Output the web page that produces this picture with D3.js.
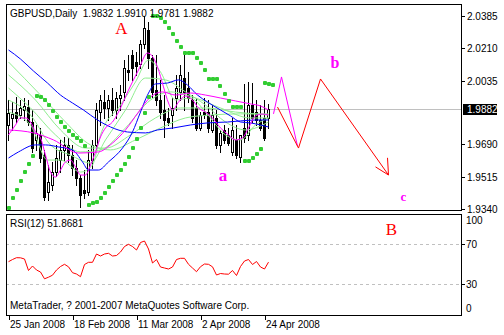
<!DOCTYPE html>
<html><head><meta charset="utf-8">
<script src="https://cdn.jsdelivr.net/npm/d3@7"></script>
<style>
body{margin:0;background:#fff}
svg{display:block}
text{font-family:'Liberation Sans',Arial,sans-serif;font-size:10px;fill:#000;white-space:pre}
</style></head>
<body><svg id="c" width="504" height="335"></svg>
<script>
// ---------- data ----------
const symbol = "GBPUSD,Daily";
const lastBar = {o:1.9832, h:1.9910, l:1.9781, c:1.9882};
const tickBars = [0,16,32,48,64];
const tickLabels = ["25 Jan 2008","18 Feb 2008","11 Mar 2008","2 Apr 2008","24 Apr 2008"];
const priceTicks = [2.0385,2.0210,2.0035,1.9690,1.9515,1.9340];
const rsiTicks = [100,70,30,0];
const rsiLevels = [70,30];
const rsiLast = 51.8681;

const open = [1.9795,1.9833,1.9866,1.9849,1.9876,1.9893,1.9812,1.9714,1.9741,1.9633,
1.9433,1.9471,1.9541,1.9606,1.9660,1.9687,1.9633,1.9563,1.9509,1.9444,
1.9433,1.9606,1.9687,1.9866,1.9920,1.9887,1.9930,1.9876,1.9941,1.9974,
2.0093,2.0174,2.0136,2.0125,2.0234,2.0309,2.0158,1.9985,1.9930,1.9876,
1.9833,1.9849,1.9941,1.9974,2.0050,1.9996,1.9930,1.9887,1.9779,1.9866,
1.9866,1.9768,1.9833,1.9687,1.9768,1.9741,1.9649,1.9714,1.9622,1.9779,
1.9741,1.9903,1.9866,1.9822,1.9833,1.9832];
const high = [1.9930,1.9920,1.9947,1.9930,1.9941,1.9930,1.9876,1.9795,1.9779,1.9660,
1.9579,1.9595,1.9687,1.9714,1.9730,1.9725,1.9687,1.9606,1.9525,1.9552,
1.9660,1.9714,1.9914,1.9958,1.9985,1.9958,1.9996,1.9974,2.0012,2.0147,
2.0174,2.0201,2.0190,2.0255,2.0385,2.0353,2.0174,2.0174,2.0039,1.9958,
1.9887,1.9941,2.0066,2.0120,2.0174,2.0082,1.9958,1.9941,1.9866,1.9941,
1.9930,1.9903,1.9876,1.9768,1.9795,1.9779,1.9833,1.9795,1.9741,2.0017,
2.0028,2.0023,1.9930,1.9903,1.9930,1.9910];
const low = [1.9714,1.9768,1.9812,1.9833,1.9822,1.9795,1.9649,1.9660,1.9595,1.9390,
1.9390,1.9444,1.9520,1.9541,1.9606,1.9595,1.9525,1.9471,1.9352,1.9401,
1.9417,1.9563,1.9660,1.9795,1.9833,1.9822,1.9849,1.9833,1.9876,1.9930,
2.0039,2.0039,2.0066,2.0104,2.0212,2.0104,1.9947,1.9903,1.9833,1.9730,
1.9795,1.9779,1.9876,1.9930,1.9876,1.9920,1.9812,1.9768,1.9768,1.9833,
1.9758,1.9758,1.9671,1.9649,1.9698,1.9687,1.9633,1.9617,1.9595,1.9703,
1.9714,1.9812,1.9795,1.9768,1.9714,1.9781];
const close = [1.9860,1.9855,1.9833,1.9887,1.9898,1.9812,1.9671,1.9752,1.9617,1.9406,
1.9487,1.9541,1.9617,1.9660,1.9687,1.9633,1.9563,1.9509,1.9417,1.9428,
1.9606,1.9687,1.9876,1.9930,1.9887,1.9930,1.9876,1.9941,1.9958,2.0104,
2.0082,2.0104,2.0115,2.0234,2.0320,2.0158,1.9974,1.9930,1.9866,1.9822,
1.9812,1.9887,1.9996,2.0066,1.9974,1.9941,1.9833,1.9779,1.9849,1.9849,
1.9779,1.9849,1.9687,1.9752,1.9714,1.9698,1.9768,1.9633,1.9741,1.9725,
1.9903,1.9833,1.9822,1.9779,1.9725,1.9882];

const sar = [1.9346,1.9400,1.9444,1.9492,1.9541,1.9584,1.9628,
1.9952,1.9947,1.9930,1.9903,1.9871,1.9839,1.9812,1.9785,1.9763,1.9741,1.9725,1.9709,1.9682,
1.9363,1.9373,1.9379,1.9400,1.9428,1.9460,1.9492,1.9525,1.9552,1.9584,1.9622,1.9671,1.9720,1.9779,1.9860,1.9947,
2.0385,2.0385,2.0374,2.0353,2.0320,2.0287,2.0250,2.0217,2.0185,2.0185,2.0185,2.0158,2.0131,2.0093,2.0044,2.0044,2.0044,2.0006,1.9963,1.9925,1.9892,1.9892,1.9892,
1.9601,1.9601,1.9617,1.9639,1.9666,
2.0023,2.0017,2.0012];

const rsi = [52.3,54.5,56.3,56.2,55,43.5,48,44,42,35.2,
36.8,38.8,44,47.5,49.7,47.2,41.3,40,37.3,49.5,
51.7,51.7,60,58,60,60.7,58,58.5,62,67.5,
69.7,67.5,64,71.5,73,65,51,54.5,47,46,
45,47,54.5,55.7,55.7,49.7,46,42.3,47.3,50,
49.7,47.2,39,40.5,40,39.8,43.5,38.5,47.5,53,
54.5,49.5,52.5,47,45,51.8681];

// moving averages: [bar, price]
const maBlueSlow = [[0,2.0201],[3,2.0152],[6.25,2.0087],[9.75,2.0022],[13,1.9957],[16,1.9914],[18.75,1.9876],[22.25,1.9822],[25.5,1.9784],[29.75,1.9757],[34.25,1.9752],[37.25,1.9768],[41.25,1.9779],[45.5,1.9795],[49.75,1.9806],[54.75,1.9811],[58,1.9817],[62.25,1.9822],[65,1.9822]];
const maBlueFast = [[0,1.9616],[2.5,1.9649],[6.75,1.9687],[9.25,1.9687],[12.5,1.9676],[16,1.9660],[18.5,1.9595],[20,1.9551],[22.5,1.9551],[25,1.9595],[28.5,1.9670],[31,1.9757],[33,1.9865],[34.75,1.9957],[36.75,2.0017],[39.75,2.0022],[42.5,2.0039],[44.75,2.0011],[47.25,1.9957],[49.75,1.9919],[53,1.9876],[55.5,1.9844],[58,1.9811],[60.5,1.9806],[63,1.9795],[65,1.9784]];
const maMagentaFast = [[0,1.9741],[1.75,1.9795],[3,1.9833],[4.25,1.9833],[5.5,1.9811],[6.75,1.9757],[8,1.9725],[9.25,1.9632],[10.5,1.9540],[11.75,1.9513],[13,1.9551],[14.25,1.9595],[15.5,1.9605],[16.75,1.9568],[18,1.9524],[19.25,1.9524],[20.5,1.9578],[21.75,1.9649],[23,1.9730],[24.25,1.9779],[26,1.9811],[27.5,1.9865],[30,1.9984],[32.5,2.0093],[34.75,2.0185],[36.25,2.0158],[37.25,2.0109],[38.75,2.0001],[40,1.9914],[41,1.9876],[42.5,1.9919],[44.25,1.9952],[46,1.9930],[47.5,1.9887],[49.25,1.9865],[51,1.9833],[53,1.9779],[55,1.9741],[56.75,1.9714],[58.5,1.9725],[60,1.9779],[61.75,1.9844],[63.5,1.9854],[65,1.9849]];
const maMagentaSlow = [[0,1.9768],[6.25,1.9752],[11.25,1.9714],[17.5,1.9643],[22.5,1.9649],[26,1.9697],[29.25,1.9768],[32.5,1.9865],[35.5,1.9946],[38.5,1.9974],[41.75,1.9957],[45.5,1.9968],[49.25,1.9957],[53,1.9941],[56.75,1.9925],[60.5,1.9909],[63,1.9898],[65,1.9876]];
const maGreen1 = [[0,1.9865],[5.5,1.9795],[9.75,1.9605],[13,1.9605],[18,1.9540],[21,1.9578],[23,1.9741],[28,1.9903],[31.75,2.0028],[35,2.0147],[38,2.0082],[41.75,1.9930],[45.5,1.9941],[49.25,1.9865],[54.25,1.9741],[58,1.9714],[61.75,1.9795],[65,1.9833]];
const maGreen2 = [[0,1.9930],[5.5,1.9849],[10.5,1.9687],[15.5,1.9632],[20.5,1.9589],[24.25,1.9714],[29.25,1.9876],[34.25,2.0049],[39.25,2.0039],[44.25,1.9974],[49.25,1.9903],[54.25,1.9811],[59.25,1.9768],[65,1.9811]];
const maGreen3 = [[0,1.9995],[5.5,1.9887],[11.75,1.9741],[18,1.9649],[23,1.9660],[29.25,1.9779],[35.5,1.9930],[40.5,1.9974],[46.75,1.9941],[53,1.9887],[60.5,1.9833],[65,1.9833]];
const maGreen4 = [[0,2.0066],[6.75,1.9930],[13,1.9768],[19.25,1.9670],[24.25,1.9670],[30.5,1.9741],[36.75,1.9833],[43,1.9887],[49.25,1.9887],[56.75,1.9865],[65,1.9849]];
const maGreen5 = [[0,2.0136],[8,1.9957],[14.25,1.9811],[20.5,1.9687],[25.5,1.9660],[31.75,1.9714],[38,1.9779],[44.25,1.9833],[50.5,1.9849],[58,1.9855],[65,1.9855]];

// hand-drawn wave projections [bar, price]
const waveMagenta = [[66.25,1.9855],[68.25,2.0055],[72.25,1.9681]];
const waveRed = [[67.25,1.9892],[72.5,1.9670],[78,2.0044],[95,1.9524]];
const arrowWings = [[[91.75,1.9568],[95,1.9524]],[[94.75,1.9617],[95,1.9524]]];
const waveLabels = [
  {t:"A", bar:28.25, price:2.0315, color:"#ff0000", font:"'Liberation Serif',serif", size:17, weight:"normal"},
  {t:"a", bar:53.6, price:1.9524, color:"#ff00ff", font:"'Liberation Serif',serif", size:17, weight:"bold"},
  {t:"b", bar:81.6, price:2.0133, color:"#ff00ff", font:"'Liberation Serif',serif", size:16, weight:"bold"},
  {t:"c", bar:98.75, price:1.9410, color:"#ff00ff", font:"'Liberation Serif',serif", size:13, weight:"bold"}
];
const rsiLabel = {t:"B", bar:95.75, value:85, color:"#ff0000"};
const copyright = "MetaTrader, ? 2001-2007 MetaQuotes Software Corp.";

// ---------- drawing ----------
const svg = d3.select("#c");
const L=6, R=461, mainTop=4, mainBot=210, rsiTop=214, rsiBot=315;
const x = d3.scaleLinear().domain([0,65]).range([8.5,268.5]);
const y = d3.scaleLinear().domain([1.9340,2.0385]).range([209,16]);
const yr = d3.scaleLinear().domain([0,100]).range([314,214]);
const px = v => Math.round(v)+0.5;

svg.append("defs").append("clipPath").attr("id","mc").append("rect")
  .attr("x",L+1).attr("y",mainTop+1).attr("width",R-L-1).attr("height",mainBot-mainTop-1);
svg.select("defs").append("clipPath").attr("id","rc").append("rect")
  .attr("x",L+1).attr("y",rsiTop+1).attr("width",R-L-1).attr("height",rsiBot-rsiTop-1);

const main = svg.append("g").attr("clip-path","url(#mc)");

// bid line
main.append("line").attr("x1",L).attr("x2",R).attr("y1",px(y(lastBar.c))).attr("y2",px(y(lastBar.c)))
  .attr("stroke","#c0c0c0");

// candles
const idx = d3.range(close.length);
const cg = main.append("g").attr("shape-rendering","crispEdges");
cg.selectAll("line.w").data(idx).join("line")
  .attr("x1",i=>x(i)).attr("x2",i=>x(i))
  .attr("y1",i=>Math.round(y(high[i]))).attr("y2",i=>Math.round(y(low[i]))+1)
  .attr("stroke","#000");
cg.selectAll("rect.b").data(idx).join("rect")
  .attr("x",i=> close[i]>=open[i] ? x(i)-1 : x(i)-1.5)
  .attr("width",i=> close[i]>=open[i] ? 2 : 3)
  .attr("y",i=>{const t=Math.round(y(Math.max(open[i],close[i]))); return close[i]>=open[i]? t+0.5 : t;})
  .attr("height",i=>{const t=Math.round(y(Math.max(open[i],close[i]))),b=Math.round(y(Math.min(open[i],close[i]))); return Math.max(close[i]>=open[i]? b-t : b-t+1, 1);})
  .attr("fill",i=> close[i]>=open[i] ? "#fff" : "#000")
  .attr("stroke",i=> close[i]>=open[i] ? "#000" : "none");

// MAs
const maLine = d3.line().x(d=>x(d[0])).y(d=>y(d[1])).curve(d3.curveMonotoneX);
[[maGreen5,"#90ee90"],[maGreen4,"#90ee90"],[maGreen3,"#90ee90"],[maGreen2,"#90ee90"],[maGreen1,"#90ee90"],
 [maBlueSlow,"#0000ff"],[maBlueFast,"#0000ff"],[maMagentaSlow,"#ff00ff"],[maMagentaFast,"#ff00ff"]]
 .forEach(([d,c])=>main.append("path").attr("d",maLine(d)).attr("fill","none").attr("stroke",c).attr("stroke-width",1));

// parabolic SAR
main.append("g").selectAll("rect").data(sar).join("rect")
  .attr("x",(d,i)=>Math.round(x(i))-2).attr("y",d=>Math.round(y(d))-2)
  .attr("width",4).attr("height",4).attr("rx",1).attr("fill","#32cd32");

// wave drawings
const wl = d3.line().x(d=>x(d[0])).y(d=>y(d[1]));
main.append("path").attr("d",wl(waveMagenta)).attr("fill","none").attr("stroke","#ff00ff");
main.append("path").attr("d",wl(waveRed)).attr("fill","none").attr("stroke","#ff0000");
arrowWings.forEach(a=>main.append("path").attr("d",wl(a)).attr("fill","none").attr("stroke","#ff0000"));
waveLabels.forEach(l=>main.append("text").attr("x",x(l.bar)).attr("y",y(l.price))
  .attr("text-anchor","middle").attr("dominant-baseline","central")
  .style("font-family",l.font).style("font-size",l.size+"px").style("font-weight",l.weight).style("fill",l.color).text(l.t));

// title
svg.append("text").attr("x",10).attr("y",17)
  .text(`${symbol}  ${lastBar.o.toFixed(4)} ${lastBar.h.toFixed(4)} ${lastBar.l.toFixed(4)} ${lastBar.c.toFixed(4)}`);

// frames
svg.append("rect").attr("x",L+0.5).attr("y",mainTop+0.5).attr("width",R-L).attr("height",mainBot-mainTop).attr("fill","none").attr("stroke","#000");
svg.append("rect").attr("x",L+0.5).attr("y",rsiTop+0.5).attr("width",R-L).attr("height",rsiBot-rsiTop).attr("fill","none").attr("stroke","#000");

// price axis
priceTicks.forEach(p=>{
  const yy=px(y(p));
  svg.append("line").attr("x1",R+1).attr("x2",R+4).attr("y1",yy).attr("y2",yy).attr("stroke","#000");
  svg.append("text").attr("x",467).attr("y",yy+3.5).text(p.toFixed(4));
});
const by=Math.round(y(lastBar.c));
svg.append("rect").attr("x",463).attr("y",by-5).attr("width",34).attr("height",11).attr("fill","#000");
svg.append("text").attr("x",467).attr("y",by+4).style("fill","#fff").text(lastBar.c.toFixed(4));

// RSI panel
const rg = svg.append("g").attr("clip-path","url(#rc)");
rsiLevels.forEach(v=>rg.append("line").attr("x1",L).attr("x2",R).attr("y1",px(yr(v))).attr("y2",px(yr(v)))
  .attr("stroke","#c0c0c0").attr("stroke-dasharray","3,3"));
rg.append("path").attr("d",d3.line().x((d,i)=>x(i)).y(d=>yr(d))(rsi)).attr("fill","none").attr("stroke","#ff0000");
rg.append("text").attr("x",x(rsiLabel.bar)).attr("y",yr(rsiLabel.value)).attr("text-anchor","middle").attr("dominant-baseline","central")
  .style("font-family","'Liberation Serif',serif").style("font-size","17px").style("fill",rsiLabel.color).text(rsiLabel.t);
svg.append("text").attr("x",10).attr("y",227).text(`RSI(12) ${rsiLast.toFixed(4)}`);
svg.append("text").attr("x",10).attr("y",309).text(copyright);
rsiTicks.forEach(v=>{
  const yy = v===100? 220 : v===0 ? 308 : yr(v);
  if(v!==100 && v!==0) svg.append("line").attr("x1",R+1).attr("x2",R+4).attr("y1",px(yr(v))).attr("y2",px(yr(v))).attr("stroke","#000");
  svg.append("text").attr("x",466).attr("y",yy+3.5).text(v);
});

// time axis
tickBars.forEach((b,k)=>{
  svg.append("line").attr("x1",px(x(b))).attr("x2",px(x(b))).attr("y1",rsiBot+1).attr("y2",rsiBot+5).attr("stroke","#000");
  svg.append("text").attr("x",Math.round(x(b))+1).attr("y",328).text(tickLabels[k]);
});
</script></body></html>
